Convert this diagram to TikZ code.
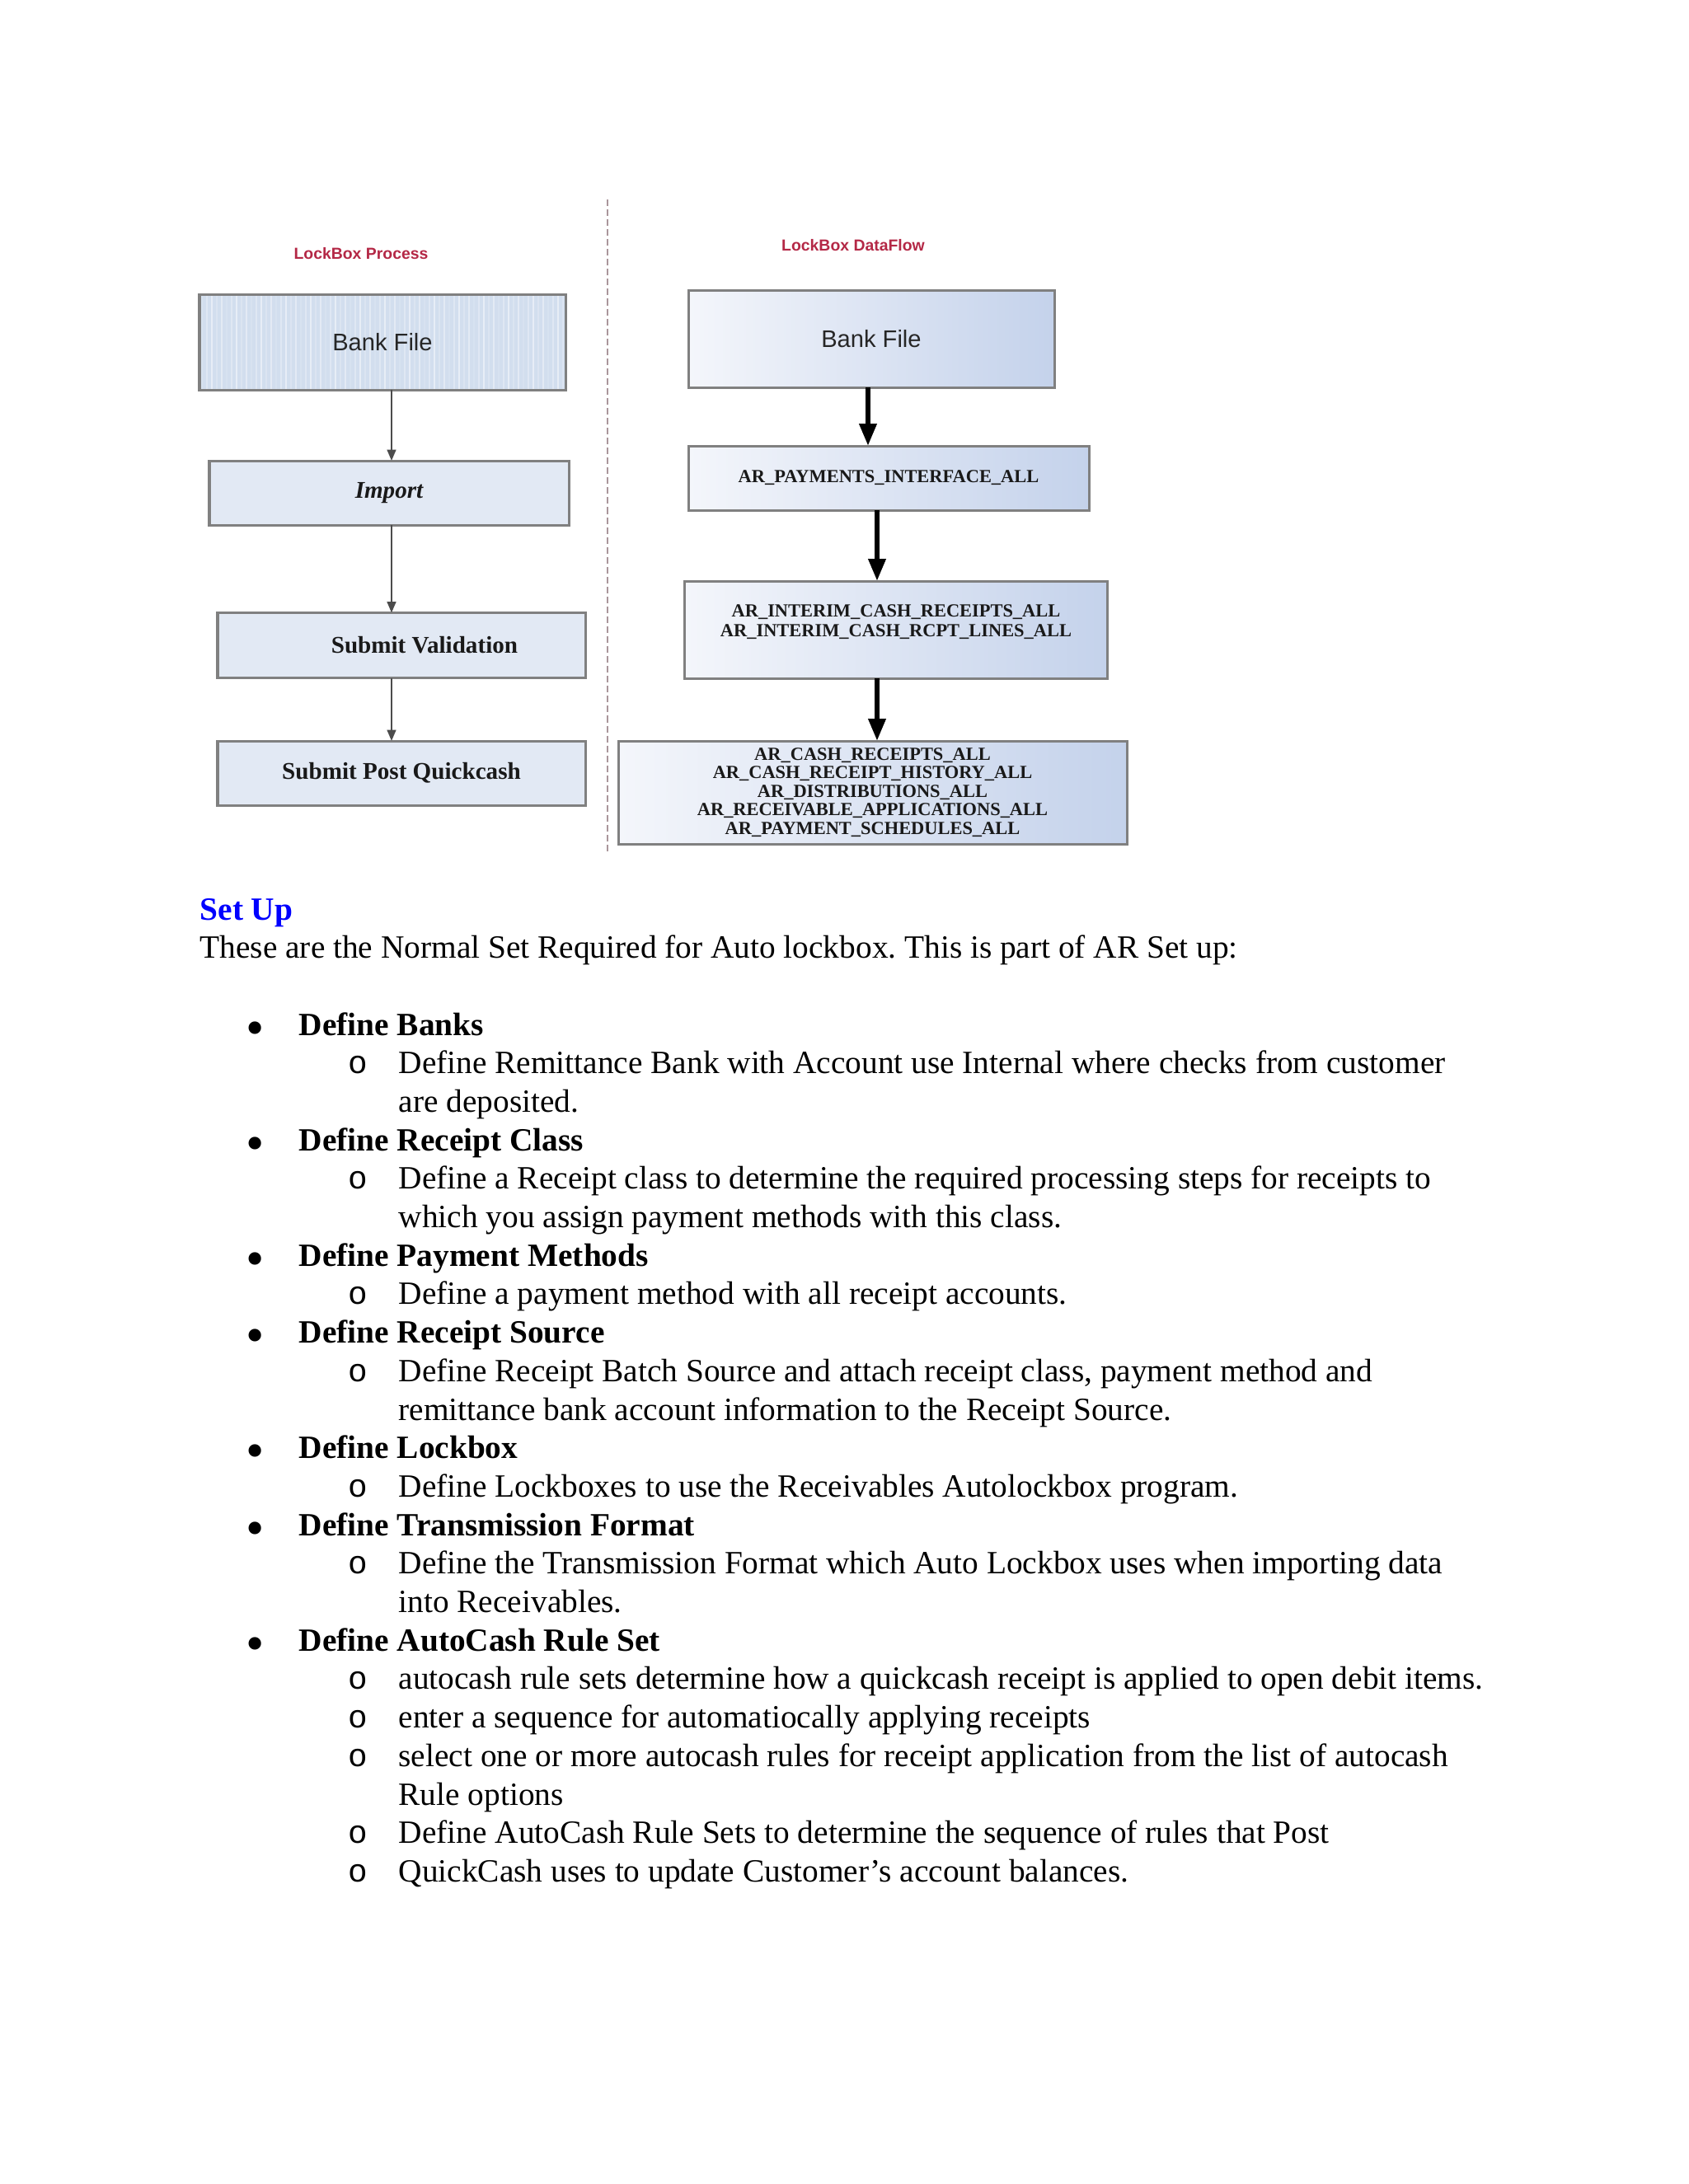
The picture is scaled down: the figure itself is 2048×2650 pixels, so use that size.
\documentclass[tikz,border=0pt]{standalone}
\usepackage{fontspec}
\setmainfont{Liberation Serif}
\newfontfamily\arialf{Liberation Sans}
\newfontfamily\couriermono{Liberation Mono}
\usetikzlibrary{arrows.meta}
\newcommand{\upx}{*0.29883bp}
\frenchspacing

\definecolor{boxline}{RGB}{128,128,128}
\definecolor{leftfill}{RGB}{226,233,244}
\definecolor{bankfill}{RGB}{210,222,238}
\definecolor{gradA}{RGB}{244,246,251}
\definecolor{gradB}{RGB}{196,210,235}
\definecolor{titlered}{RGB}{180,40,70}
\definecolor{linkblue}{RGB}{0,0,255}
\definecolor{sepline}{RGB}{170,150,155}

\tikzset{
  lbox/.style={draw=boxline, line width=0.9bp, fill=leftfill, inner sep=0pt, outer sep=0pt,
    font=\fontsize{8.7bp}{10bp}\selectfont\bfseries, text=black!90},
  rbox/.style={draw=boxline, line width=0.9bp, left color=gradA, right color=gradB, inner sep=0pt, outer sep=0pt,
    font=\fontsize{6.7bp}{6.75bp}\selectfont\bfseries, text=black!90, align=center},
  rtext/.style={inner sep=0pt, font=\fontsize{6.7bp}{7.2bp}\selectfont\bfseries, text=black!90, align=center},
  sanslbl/.style={font=\arialf\fontsize{8.7bp}{10bp}\selectfont, text=black!85},
  ttl/.style={font=\arialf\bfseries\fontsize{5.8bp}{7bp}\selectfont, text=titlered, inner sep=0pt},
  sepdash/.style={draw=sepline, line width=0.6bp, dash pattern=on 2.4bp off 1.2bp},
  larr/.style={draw=black!70, line width=0.7bp, -{Triangle[length=4bp,width=3.2bp]}},
  rarr/.style={draw=black, line width=1.8bp, -{Triangle[length=8bp,width=6bp]}},
  body/.style={anchor=base west, inner sep=0pt, font=\fontsize{11.76bp}{14bp}\selectfont},
  headline/.style={anchor=base west, inner sep=0pt, font=\fontsize{11.76bp}{14bp}\selectfont\bfseries},
  bul/.style={anchor=base west, inner sep=0pt, yshift=-12\upx, font=\fontsize{19bp}{20bp}\selectfont},
  subbul/.style={anchor=base west, inner sep=0pt, font=\couriermono\fontsize{11.76bp}{14bp}\selectfont},
}

\begin{document}
\begin{tikzpicture}[x=0.29883bp, y=-0.29883bp]
\fill[white] (0,0) rectangle (2048,2650);
\useasboundingbox (0,0) rectangle (2048,2650);

% ---------- titles ----------
\node[ttl] (t1) at (438,308) {LockBox Process};
\node[ttl] (t2) at (1035,298) {LockBox DataFlow};

% ---------- separator ----------
\coordinate (septop) at (737,242);
\coordinate (sepbot) at (737,1034);
\draw[sepdash] (septop) -- (sepbot);

% ---------- left column ----------
\node[lbox, fill=bankfill, sanslbl, minimum width=444\upx, minimum height=116\upx,
  path picture={
    \foreach \i in {0,...,73} {
      \pgfmathsetmacro\op{0.12+0.09*mod(\i*7,5)}
      \draw[white, opacity=\op, line width=0.5bp]
        ([xshift=\i*6\upx+3\upx]path picture bounding box.north west) --
        ([xshift=\i*6\upx+3\upx]path picture bounding box.south west);
    }
  }] (bf1) at (464,415) {Bank File};
\node[lbox, minimum width=436\upx, minimum height=78\upx] (imp) at (472,598) {\itshape Import};
\node[lbox, minimum width=446\upx, minimum height=79\upx] (sv) at (487,783) {\hspace*{16.7bp}Submit Validation};
\node[lbox, minimum width=446\upx, minimum height=78\upx] (spq) at (487,938) {Submit Post Quickcash};

\coordinate (lx) at (475,0);
\draw[larr] (bf1.south -| lx) -- (imp.north -| lx);
\draw[larr] (imp.south -| lx) -- (sv.north -| lx);
\draw[larr] (sv.south -| lx) -- (spq.north -| lx);

% ---------- right column ----------
\node[rbox, sanslbl, minimum width=444\upx, minimum height=118\upx] (bf2) at (1057,411) {Bank File};
\node[rbox, minimum width=486\upx, minimum height=78\upx] (pay) at (1078,580) {AR\_PAYMENTS\_INTERFACE\_ALL};
\node[rbox, minimum width=513\upx, minimum height=118\upx] (int) at (1086.5,764) {};
\node[rtext] (intt) at (1087,755)
  {AR\_INTERIM\_CASH\_RECEIPTS\_ALL\\AR\_INTERIM\_CASH\_RCPT\_LINES\_ALL};
\node[rbox, minimum width=617\upx, minimum height=125\upx] (fin) at (1058.5,961.5)
  {AR\_CASH\_RECEIPTS\_ALL\\AR\_CASH\_RECEIPT\_HISTORY\_ALL\\AR\_DISTRIBUTIONS\_ALL\\AR\_RECEIVABLE\_APPLICATIONS\_ALL\\AR\_PAYMENT\_SCHEDULES\_ALL};

\coordinate (rx1) at (1053,0);
\coordinate (rx2) at (1064,0);
\draw[rarr] (bf2.south -| rx1) -- (pay.north -| rx1);
\draw[rarr] (pay.south -| rx2) -- (int.north -| rx2);
\draw[rarr] (int.south -| rx2) -- (fin.north -| rx2);

% ---------- text ----------
\node[headline, text=linkblue] (setup) at (242,1116) {Set Up};
\node[body] (intro) at (242,1162.6) {These are the Normal Set Required for Auto lockbox. This is part of AR Set up:};

\node[bul] (b0) at (298,1256) {•};
\node[headline] (h0) at (362,1256) {Define Banks};
\node[subbul] (s1) at (422,1302.7) {o};
\node[body] (l1) at (483,1302.7) {Define Remittance Bank with Account use Internal where checks from customer};
\node[body] (l2) at (483,1349.4) {are deposited.};

\node[bul] (b3) at (298,1396.1) {•};
\node[headline] (h3) at (362,1396.1) {Define Receipt Class};
\node[subbul] (s4) at (422,1442.8) {o};
\node[body] (l4) at (483,1442.8) {Define a Receipt class to determine the required processing steps for receipts to};
\node[body] (l5) at (483,1489.5) {which you assign payment methods with this class.};

\node[bul] (b6) at (298,1536.2) {•};
\node[headline] (h6) at (362,1536.2) {Define Payment Methods};
\node[subbul] (s7) at (422,1582.9) {o};
\node[body] (l7) at (483,1582.9) {Define a payment method with all receipt accounts.};

\node[bul] (b8) at (298,1629.6) {•};
\node[headline] (h8) at (362,1629.6) {Define Receipt Source};
\node[subbul] (s9) at (422,1676.3) {o};
\node[body] (l9) at (483,1676.3) {Define Receipt Batch Source and attach receipt class, payment method and};
\node[body] (l10) at (483,1723) {remittance bank account information to the Receipt Source.};

\node[bul] (b11) at (298,1769.7) {•};
\node[headline] (h11) at (362,1769.7) {Define Lockbox};
\node[subbul] (s12) at (422,1816.4) {o};
\node[body] (l12) at (483,1816.4) {Define Lockboxes to use the Receivables Autolockbox program.};

\node[bul] (b13) at (298,1863.1) {•};
\node[headline] (h13) at (362,1863.1) {Define Transmission Format};
\node[subbul] (s14) at (422,1909.8) {o};
\node[body] (l14) at (483,1909.8) {Define the Transmission Format which Auto Lockbox uses when importing data};
\node[body] (l15) at (483,1956.5) {into Receivables.};

\node[bul] (b16) at (298,2003.2) {•};
\node[headline] (h16) at (362,2003.2) {Define AutoCash Rule Set};
\node[subbul] (s17) at (422,2049.9) {o};
\node[body] (l17) at (483,2049.9) {autocash rule sets determine how a quickcash receipt is applied to open debit items.};
\node[subbul] (s18) at (422,2096.6) {o};
\node[body] (l18) at (483,2096.6) {enter a sequence for automatiocally applying receipts};
\node[subbul] (s19) at (422,2143.3) {o};
\node[body] (l19) at (483,2143.3) {select one or more autocash rules for receipt application from the list of autocash};
\node[body] (l20) at (483,2190) {Rule options};
\node[subbul] (s21) at (422,2236.7) {o};
\node[body] (l21) at (483,2236.7) {Define AutoCash Rule Sets to determine the sequence of rules that Post};
\node[subbul] (s22) at (422,2283.4) {o};
\node[body] (l22) at (483,2283.4) {QuickCash uses to update Customer's account balances.};
\end{tikzpicture}
\end{document}
